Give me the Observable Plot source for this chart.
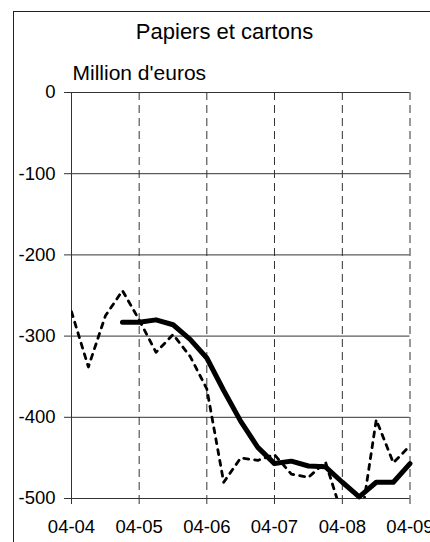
<!DOCTYPE html>
<html>
<head>
<meta charset="utf-8">
<script src="https://cdn.jsdelivr.net/npm/d3@7"></script>
<script src="https://cdn.jsdelivr.net/npm/@observablehq/plot@0.6"></script>
<style>
html, body { margin: 0; padding: 0; background: #fff; }
#wrap { position: relative; width: 430px; height: 542px; overflow: hidden; font-family: "Liberation Sans", Arial, sans-serif; color: #000; }
#frame { position: absolute; left: 13px; top: 11px; width: 440px; height: 560px; border-left: 1.5px solid #222; border-top: 1.5px solid #222; box-sizing: border-box; }
#title { position: absolute; left: 0; width: 449px; top: 21.4px; text-align: center; font-size: 22px; line-height: 22px; white-space: nowrap; }
#unit { position: absolute; left: 72.5px; top: 62.2px; font-size: 21px; line-height: 21px; white-space: nowrap; }
#chart { position: absolute; left: 0; top: 0; }
</style>
</head>
<body>
<div id="wrap">
  <div id="chart"></div>
  <div id="frame"></div>
  <div id="title"></div>
  <div id="unit"></div>
</div>
<script>
// ---- data ----
const chartTitle = "Papiers et cartons";
const unitLabel = "Million d'euros";
const periods = ["2004-04","2004-07","2004-10","2005-01","2005-04","2005-07","2005-10","2006-01","2006-04","2006-07","2006-10","2007-01","2007-04","2007-07","2007-10","2008-01","2008-04","2008-07","2008-10","2009-01","2009-04"];
const quarterly = [-270,-338,-275,-244,-280,-320,-298,-325,-365,-480,-450,-453,-446,-470,-474,-455,-521,-542,-403,-456,-435];
const movingAvg = [null,null,null,-283,-283,-280,-286,-304,-327,-367,-405,-437,-457,-454,-460,-461,-480,-498,-480,-480,-457];
const tickPeriods = ["2004-04","2005-04","2006-04","2007-04","2008-04","2009-04"];
const tickLabels = ["04-04","04-05","04-06","04-07","04-08","04-09"];
const yTicks = [0,-100,-200,-300,-400,-500];

document.getElementById("title").textContent = chartTitle;
document.getElementById("unit").textContent = unitLabel;

const parse = d3.utcParse("%Y-%m");
const rows = periods.map((p, i) => ({date: parse(p), q: quarterly[i], ma: movingAvg[i]}));
const tickDates = tickPeriods.map(parse);
const labelFor = d => tickLabels[tickDates.findIndex(t => +t === +d)];

const chart = Plot.plot({
  width: 430,
  height: 542,
  marginLeft: 71,
  marginRight: 20.5,
  marginTop: 92,
  marginBottom: 44,
  style: {fontFamily: "'Liberation Sans', Arial, sans-serif", fontSize: "18.5px", background: "transparent", color: "#000", overflow: "visible"},
  x: {type: "utc", domain: [tickDates[0], tickDates[tickDates.length - 1]]},
  y: {domain: [-500, 0]},
  marks: [
    Plot.gridY(yTicks, {stroke: "#333", strokeOpacity: 1, strokeWidth: 1}),
    Plot.gridX(tickDates.slice(1), {stroke: "#333", strokeOpacity: 1, strokeWidth: 1, strokeDasharray: "8,5"}),
    Plot.ruleX([tickDates[0]], {stroke: "#333", strokeWidth: 1}),
    Plot.axisY(yTicks, {tickSize: 7, tickPadding: 9, tickFormat: d => String(d), label: null, stroke: "#333"}),
    Plot.axisX(tickDates, {tickSize: 6, tickPadding: 15, tickFormat: labelFor, label: null, stroke: "#333"}),
    Plot.line(rows, {x: "date", y: "q", stroke: "#000", strokeWidth: 2.8, strokeDasharray: "5,6", clip: true}),
    Plot.line(rows.filter(d => d.ma != null), {x: "date", y: "ma", stroke: "#000", strokeWidth: 5, strokeLinejoin: "round"})
  ]
});
document.getElementById("chart").appendChild(chart);
</script>
</body>
</html>
